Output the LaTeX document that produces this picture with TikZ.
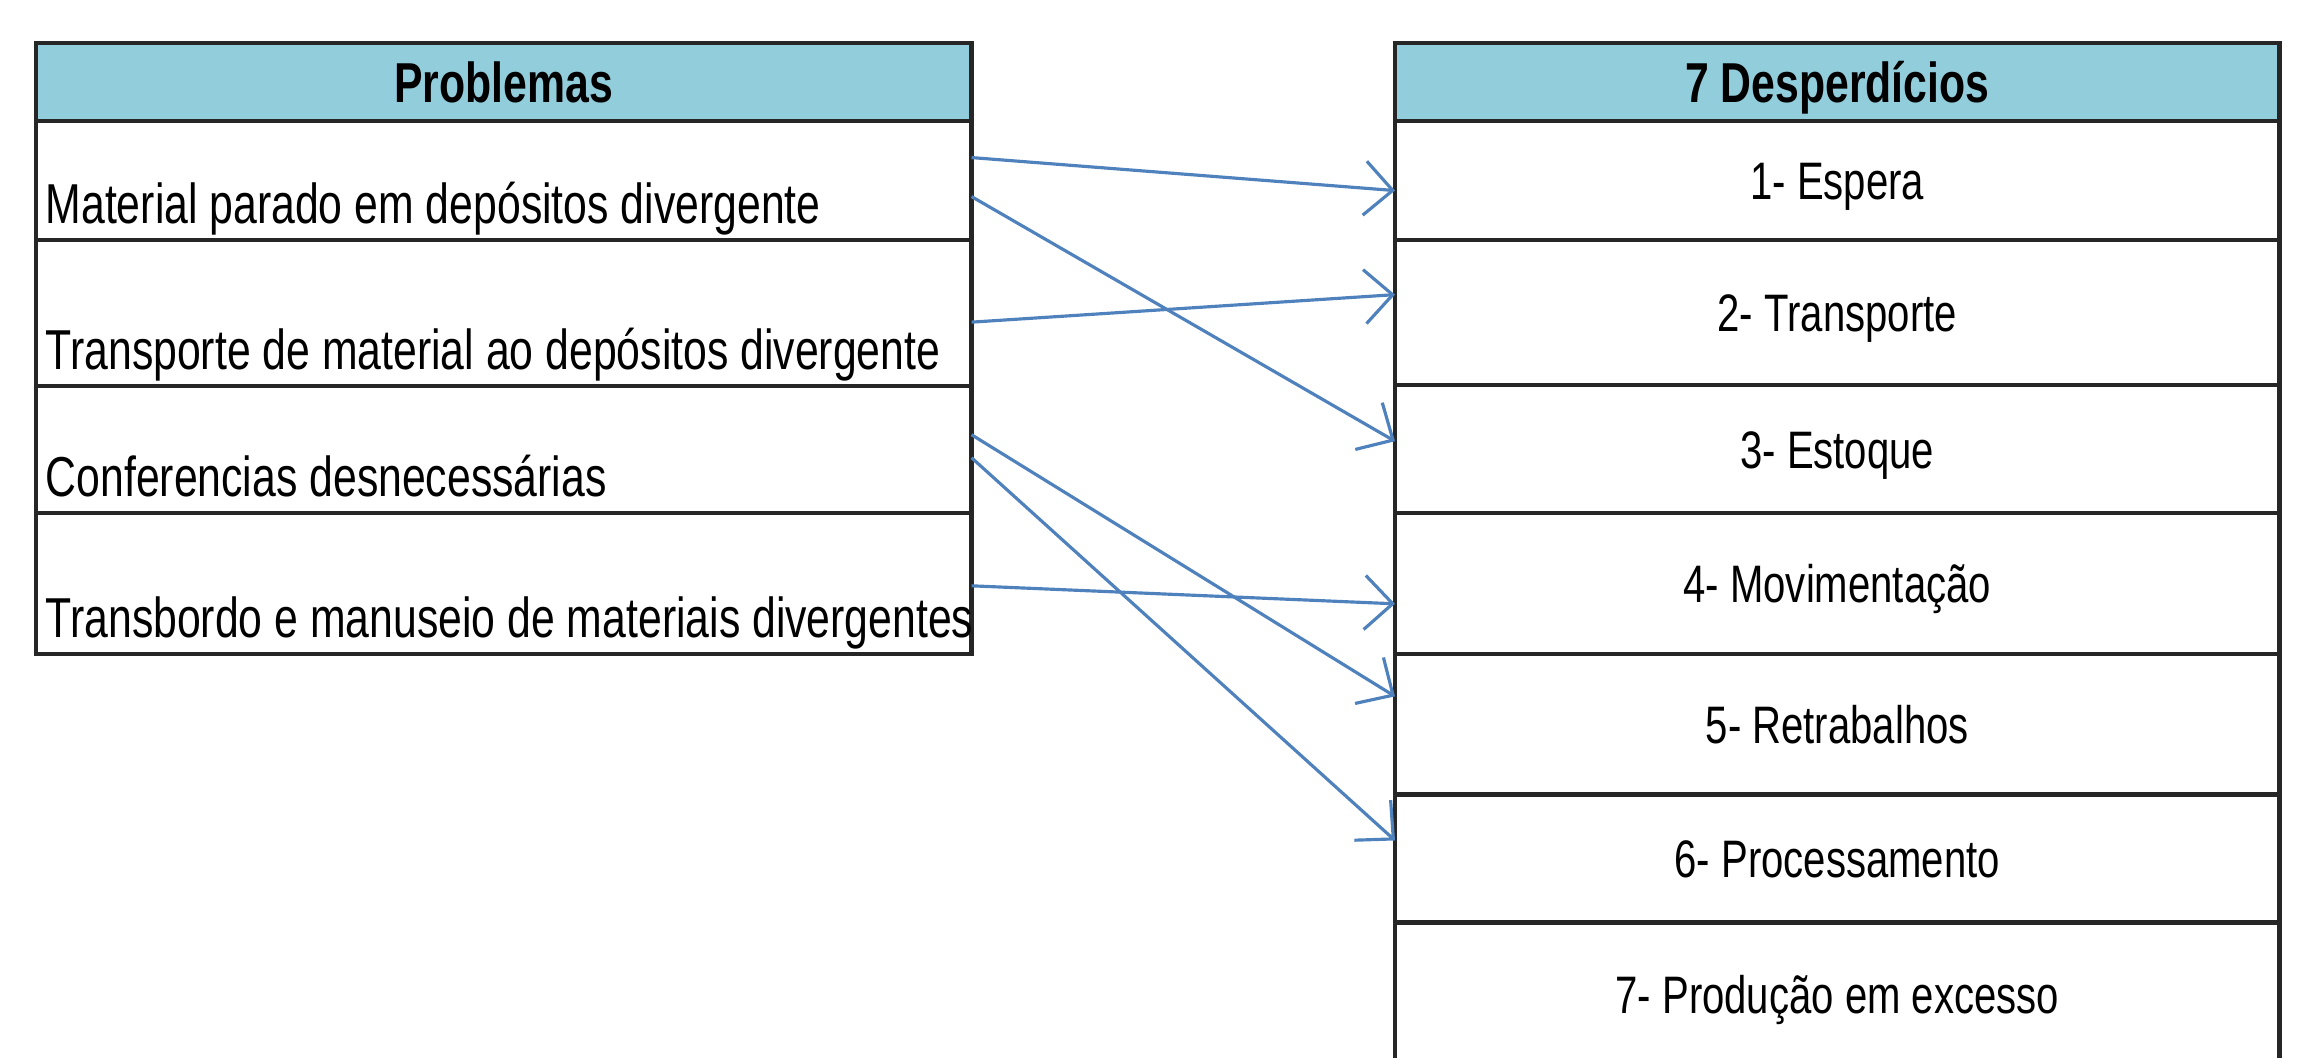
\documentclass[tikz,border=0pt]{standalone}
\usepackage{fontspec}
\setmainfont[FakeStretch=0.76]{Liberation Sans}
\usepackage{xcolor}
\usepackage{tikz}
\usetikzlibrary{calc, positioning, arrows.meta}
\definecolor{headblue}{RGB}{146,205,220}
\definecolor{linkblue}{RGB}{79,129,189}
\tikzset{
    cell/.style={rectangle, draw=black!85, line width=1.2pt, fill=white, outer sep=0pt, inner sep=0pt},
    head/.style={cell, fill=headblue, minimum height=0.78cm, font=\fontsize{16}{19}\bfseries\selectfont, text height=0.4cm, text depth=0pt},
    probcell/.style={cell, minimum width=9.35cm},
    wastecell/.style={cell, minimum width=8.84cm, font=\fontsize{15}{18}\selectfont, text height=0.38cm, text depth=0pt},
    probtext/.style={anchor=base west, inner sep=0pt, font=\fontsize{16}{19}\selectfont},
    link/.style={draw=linkblue, line width=0.9pt, -{Straight Barb[length=2.8mm, width=5.4mm]}}
}

\begin{document}
\begin{tikzpicture}[x=0.01cm, y=-0.01cm]
        \useasboundingbox (0,0) rectangle (2302,1058);

        % Problemas
        \node[head, minimum width=9.35cm, anchor=north west] (p0) at (36,43) {Problemas};
        \node[probcell, minimum height=1.19cm, below=0pt of p0] (p1) {};
        \node[probcell, minimum height=1.46cm, below=0pt of p1] (p2) {};
        \node[probcell, minimum height=1.27cm, below=0pt of p2] (p3) {};
        \node[probcell, minimum height=1.41cm, below=0pt of p3] (p4) {};
        \node[probtext] (t1) at ([xshift=0.09cm, yshift=0.17cm]p1.south west) {Material parado em depósitos divergente};
        \node[probtext] (t2) at ([xshift=0.09cm, yshift=0.17cm]p2.south west) {Transporte de material ao depósitos divergente};
        \node[probtext] (t3) at ([xshift=0.09cm, yshift=0.17cm]p3.south west) {Conferencias desnecessárias};
        \node[probtext] (t4) at ([xshift=0.09cm, yshift=0.17cm]p4.south west) {Transbordo e manuseio de materiais divergentes};

        % 7 Desperdicios
        \node[head, minimum width=8.84cm, anchor=north west] (d0) at (1395,43) {7 Desperdícios};
        \node[wastecell, minimum height=1.19cm, below=0pt of d0] (d1) {1- Espera};
        \node[wastecell, minimum height=1.45cm, below=0pt of d1] (d2) {2- Transporte};
        \node[wastecell, minimum height=1.28cm, below=0pt of d2] (d3) {3- Estoque};
        \node[wastecell, minimum height=1.41cm, below=0pt of d3] (d4) {4- Movimentação};
        \node[wastecell, minimum height=1.40cm, below=0pt of d4] (d5) {5- Retrabalhos};
        \node[wastecell, minimum height=1.28cm, below=0pt of d5] (d6) {6- Processamento};
        \node[wastecell, minimum height=1.43cm, below=0pt of d6] (d7) {7- Produção em excesso};

        % links
        \draw[link] ($(p1.east)+(0,-23)$) -- ($(d1.west)+(0,10)$);
        \draw[link] ($(p1.east)+(0,16)$) -- ($(d3.west)+(0,-8)$);
        \draw[link] ($(p2.east)+(0,9)$) -- ($(d2.west)+(0,-18)$);
        \draw[link] ($(p3.east)+(0,-15)$) -- ($(d5.west)+(0,-28)$);
        \draw[link] ($(p3.east)+(0,8)$) -- ($(d6.west)+(0,-18)$);
        \draw[link] ($(p4.east)+(0,2)$) -- ($(d4.west)+(0,20)$);
    \end{tikzpicture}
\end{document}
